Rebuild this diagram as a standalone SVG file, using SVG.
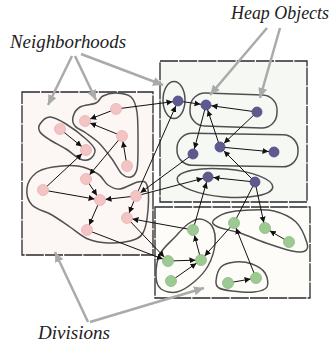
<svg xmlns="http://www.w3.org/2000/svg" width="334" height="343" viewBox="0 0 334 343">
<style>
.div{stroke:#2a2a2a;stroke-width:1.3;stroke-dasharray:18 1.2}
.blob{fill:none;stroke:#505050;stroke-width:1.5}
.e{stroke:#111;stroke-width:1;fill:none;marker-end:url(#ah)}
.ep{stroke:#111;stroke-width:1;fill:none}
.g{stroke:#aaa;stroke-width:2.5;fill:none;marker-end:url(#gh)}
.lbl{font-family:"Liberation Serif","DejaVu Serif",serif;font-style:italic;font-size:18px;fill:#222}
.pk{fill:#f3c4c4;stroke:#e9b3b3;stroke-width:0.8}
.pu{fill:#5d5a91;stroke:#4e4b80;stroke-width:0.8}
.gr{fill:#9dc993;stroke:#8dbb84;stroke-width:0.8}
</style>
<defs>
<marker id="ah" markerUnits="userSpaceOnUse" markerWidth="20" markerHeight="10" viewBox="0 0 20 10" refX="11.5" refY="5" orient="auto">
<path d="M0,2 L6,5 L0,8 Z" fill="#111"/>
</marker>
<marker id="gh" markerUnits="userSpaceOnUse" markerWidth="12" markerHeight="12" viewBox="0 0 12 12" refX="10" refY="6" orient="auto">
<path d="M0,1.5 L10,6 L0,10.5 Z" fill="#aaa"/>
</marker>
</defs>

<g id="divisions">
<rect id="div-left" class="div" x="22" y="92" width="131" height="163" fill="#fcf6f4"/>
<rect id="div-topright" class="div" x="160" y="61" width="147" height="141" fill="#f6f8f4"/>
<rect id="div-bottomright" class="div" x="155" y="207" width="155" height="91" fill="#fdfcf8"/>
</g>

<g id="neighborhoods">
<path id="nb-ce" class="blob" d="M40,124 C41.67,121.5 45.67,117 50,117 C54.33,117 60,120.33 66,124 C72,127.67 81.17,134.67 86,139 C90.83,143.33 94.33,146.67 95,150 C95.67,153.33 92.5,157.5 90,159 C87.5,160.5 84,160.67 80,159 C76,157.33 71,152.17 66,149 C61,145.83 54.33,142.83 50,140 C45.67,137.17 41.67,134.67 40,132 C38.33,129.33 38.33,126.5 40,124 Z"/>
<path id="nb-abdf" class="blob" d="M73,117 C73.83,113.83 76.17,109.33 80,107 C83.83,104.67 92.17,104.83 96,103 C99.83,101.17 99.67,97.67 103,96 C106.33,94.33 111.33,92.83 116,93 C120.67,93.17 127.5,93.83 131,97 C134.5,100.17 135.83,104 137,112 C138.17,120 138,135.5 138,145 C138,154.5 138.17,163.67 137,169 C135.83,174.33 133.5,176.17 131,177 C128.5,177.83 125.17,177 122,174 C118.83,171 115.83,164.17 112,159 C108.17,153.83 103.33,147.33 99,143 C94.67,138.67 90,135.83 86,133 C82,130.17 77.17,128.67 75,126 C72.83,123.33 72.17,120.17 73,117 Z"/>
<path id="nb-big" class="blob" d="M27,188 C27.67,182.67 31.67,176.5 36,173 C40.33,169.5 46,168.17 53,167 C60,165.83 70.5,164.83 78,166 C85.5,167.17 93,170.83 98,174 C103,177.17 104.33,182.5 108,185 C111.67,187.5 115,189.5 120,189 C125,188.5 133.5,182.67 138,182 C142.5,181.33 145.33,180.33 147,185 C148.67,189.67 148.67,202 148,210 C147.33,218 146,227.83 143,233 C140,238.17 135.83,239.33 130,241 C124.17,242.67 115,243.33 108,243 C101,242.67 94.33,241.67 88,239 C81.67,236.33 76,231 70,227 C64,223 58.33,218.67 52,215 C45.67,211.33 36.17,209.5 32,205 C27.83,200.5 26.33,193.33 27,188 Z"/>
<ellipse id="nb-p1" class="blob" cx="174" cy="100" rx="11" ry="18.5"/>
<rect id="nb-p23" class="blob" x="190" y="94" width="87" height="33" rx="15" transform="rotate(2 233 111)"/>
<rect id="nb-p456" class="blob" x="177" y="134" width="121" height="32" rx="15" transform="rotate(1 237 150)"/>
<ellipse id="nb-p78" class="blob" cx="225" cy="183" rx="48" ry="14" transform="rotate(5 225 183)"/>
<path id="nb-g1567" class="blob" d="M156,276 C155.83,270.17 156.83,260.5 160,254 C163.17,247.5 170.33,242 175,237 C179.67,232 183.83,227 188,224 C192.17,221 196,218.67 200,219 C204,219.33 209.5,221.83 212,226 C214.5,230.17 215.67,237.33 215,244 C214.33,250.67 211.5,259.67 208,266 C204.5,272.33 199.17,277.67 194,282 C188.83,286.33 182.5,290.83 177,292 C171.5,293.17 164.5,291.67 161,289 C157.5,286.33 156.17,281.83 156,276 Z"/>
<path id="nb-g234" class="blob" d="M213,221 C214.33,218.67 219.83,214.83 226,213 C232.17,211.17 242,210.33 250,210 C258,209.67 266.33,209 274,211 C281.67,213 290.5,216.67 296,222 C301.5,227.33 305.5,238.17 307,243 C308.5,247.83 307.5,249.67 305,251 C302.5,252.33 298.5,252.33 292,251 C285.5,249.67 274.67,246 266,243 C257.33,240 248,235.67 240,233 C232,230.33 222.5,229 218,227 C213.5,225 211.67,223.33 213,221 Z"/>
<path id="nb-g89" class="blob" d="M216,281 C216.33,277.5 217.83,270.17 221,267 C224.17,263.83 229.83,262.5 235,262 C240.17,261.5 247,262.17 252,264 C257,265.83 262.5,269.17 265,273 C267.5,276.83 268.83,283.83 267,287 C265.17,290.17 259.83,291.33 254,292 C248.17,292.67 237.83,291.67 232,291 C226.17,290.33 221.67,289.67 219,288 C216.33,286.33 215.67,284.5 216,281 Z"/>
</g>

<g id="connectors">
<line class="e" x1="116" y1="109" x2="85" y2="121"/>
<line class="e" x1="122" y1="136" x2="85" y2="121"/>
<line class="e" x1="127" y1="166" x2="122" y2="136"/>
<line class="e" x1="60" y1="129" x2="86" y2="150"/>
<line class="e" x1="43" y1="190" x2="86" y2="150"/>
<line class="e" x1="122" y1="136" x2="86" y2="179"/>
<line class="e" x1="86" y1="179" x2="100" y2="200"/>
<line class="e" x1="43" y1="190" x2="100" y2="200"/>
<line class="e" x1="136" y1="196" x2="100" y2="200"/>
<line class="e" x1="100" y1="200" x2="87" y2="230"/>
<line class="e" x1="136" y1="196" x2="127" y2="218"/>
<line class="e" x1="116" y1="109" x2="178" y2="101"/>
<line class="e" x1="136" y1="196" x2="178" y2="101"/>
<line class="e" x1="193" y1="154" x2="136" y2="196"/>
<line class="e" x1="136" y1="196" x2="208" y2="177"/>
<line class="e" x1="193" y1="230" x2="127" y2="218"/>
<line class="e" x1="127" y1="218" x2="168" y2="261"/>
<line class="e" x1="87" y1="230" x2="168" y2="261"/>
<line class="e" x1="178" y1="101" x2="206" y2="105"/>
<line class="e" x1="257" y1="112" x2="206" y2="105"/>
<line class="e" x1="206" y1="105" x2="193" y2="154"/>
<line class="e" x1="220" y1="147" x2="206" y2="105"/>
<line class="e" x1="257" y1="112" x2="220" y2="147"/>
<line class="e" x1="220" y1="147" x2="274" y2="152"/>
<line class="e" x1="255" y1="182" x2="220" y2="147"/>
<line class="e" x1="255" y1="182" x2="208" y2="177"/>
<line class="e" x1="193" y1="230" x2="208" y2="177"/>
<line class="ep" x1="255" y1="182" x2="234" y2="223"/>
<line class="e" x1="255" y1="182" x2="265" y2="228"/>
<line class="e" x1="256" y1="278" x2="234" y2="223"/>
<line class="e" x1="289" y1="242" x2="265" y2="228"/>
<line class="e" x1="234" y1="223" x2="201" y2="260"/>
<line class="e" x1="201" y1="260" x2="193" y2="230"/>
<line class="e" x1="168" y1="261" x2="201" y2="260"/>
<line class="e" x1="171" y1="281" x2="201" y2="260"/>
<line class="e" x1="228" y1="283" x2="256" y2="278"/>
</g>

<g id="nodes">
<circle id="n-a" class="pk" cx="116" cy="109" r="5.5"/>
<circle id="n-b" class="pk" cx="85" cy="121" r="5.5"/>
<circle id="n-c" class="pk" cx="60" cy="129" r="5.5"/>
<circle id="n-d" class="pk" cx="122" cy="136" r="5.5"/>
<circle id="n-e" class="pk" cx="86" cy="150" r="5.5"/>
<circle id="n-f" class="pk" cx="127" cy="166" r="5.5"/>
<circle id="n-g" class="pk" cx="86" cy="179" r="5.5"/>
<circle id="n-h" class="pk" cx="43" cy="190" r="5.5"/>
<circle id="n-i" class="pk" cx="100" cy="200" r="5.5"/>
<circle id="n-j" class="pk" cx="136" cy="196" r="5.5"/>
<circle id="n-k" class="pk" cx="127" cy="218" r="5.5"/>
<circle id="n-l" class="pk" cx="87" cy="230" r="5.5"/>
<circle id="n-p1" class="pu" cx="178" cy="101" r="5"/>
<circle id="n-p2" class="pu" cx="206" cy="105" r="5"/>
<circle id="n-p3" class="pu" cx="257" cy="112" r="5"/>
<circle id="n-p4" class="pu" cx="220" cy="147" r="5"/>
<circle id="n-p5" class="pu" cx="193" cy="154" r="5"/>
<circle id="n-p6" class="pu" cx="274" cy="152" r="5"/>
<circle id="n-p7" class="pu" cx="208" cy="177" r="5"/>
<circle id="n-p8" class="pu" cx="255" cy="182" r="5"/>
<circle id="n-g1" class="gr" cx="193" cy="230" r="5.5"/>
<circle id="n-g2" class="gr" cx="234" cy="223" r="5.5"/>
<circle id="n-g3" class="gr" cx="265" cy="228" r="5.5"/>
<circle id="n-g4" class="gr" cx="289" cy="242" r="5.5"/>
<circle id="n-g5" class="gr" cx="168" cy="261" r="5.5"/>
<circle id="n-g6" class="gr" cx="201" cy="260" r="5.5"/>
<circle id="n-g7" class="gr" cx="171" cy="281" r="5.5"/>
<circle id="n-g8" class="gr" cx="228" cy="283" r="5.5"/>
<circle id="n-g9" class="gr" cx="256" cy="278" r="5.5"/>
</g>

<g id="labels">
<g id="lbl-neighborhoods">
<text class="lbl" x="10" y="48" textLength="116" lengthAdjust="spacingAndGlyphs">Neighborhoods</text>
<line class="g" x1="72" y1="56" x2="48" y2="105"/>
<line class="g" x1="75" y1="56" x2="96" y2="100"/>
<line class="g" x1="81" y1="54" x2="163" y2="85"/>
</g>
<g id="lbl-heap">
<text class="lbl" x="231" y="19" textLength="98" lengthAdjust="spacingAndGlyphs">Heap Objects</text>
<line class="g" x1="267" y1="28" x2="210" y2="95"/>
<line class="g" x1="280" y1="28" x2="260" y2="98"/>
</g>
<g id="lbl-divisions">
<text class="lbl" x="38" y="339" textLength="72" lengthAdjust="spacingAndGlyphs">Divisions</text>
<line class="g" x1="88" y1="322" x2="55" y2="252"/>
<line class="g" x1="90" y1="322" x2="204" y2="288"/>
</g>
</g>
</svg>
